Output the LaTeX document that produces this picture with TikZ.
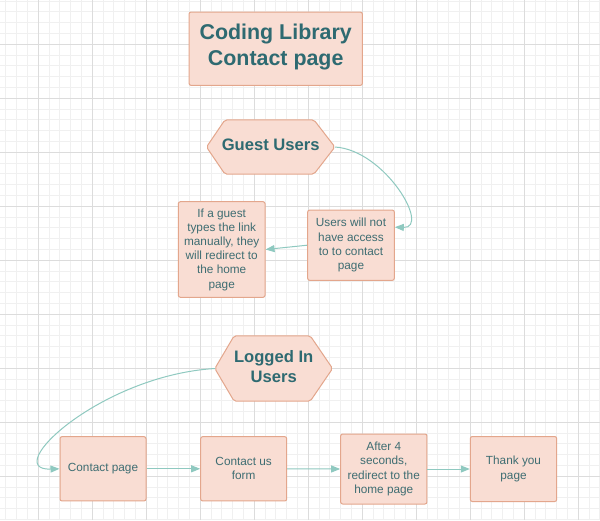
\documentclass[tikz,border=0pt]{standalone}
\usepackage{fontspec}
\setmainfont{Liberation Sans}
\usetikzlibrary{arrows.meta,calc}
\definecolor{boxfill}{HTML}{F9DDD3}
\definecolor{boxline}{HTML}{E3A68C}
\definecolor{txt}{HTML}{3E6D72}
\definecolor{ttl}{HTML}{2E6A71}
\definecolor{arr}{HTML}{8FC9C0}
\definecolor{gminor}{HTML}{F0F0F0}
\definecolor{gmajor}{HTML}{DCDCDC}
\pgfdeclarelayer{gridlayer}
\pgfdeclarelayer{bg}
\pgfsetlayers{gridlayer,bg,main}
\tikzset{
  pbox/.style={draw=boxline, fill=boxfill, line width=1pt, rounded corners=2pt, inner sep=0pt,
    align=center, text=txt, font=\fontsize{11.8}{14.2}\selectfont},
  tbox/.style={pbox, text=ttl, font=\fontsize{21.4}{26}\selectfont\bfseries, text depth=8.5pt},
  hexnode/.style={inner sep=0pt, align=center, text=ttl, font=\fontsize{16.6}{20}\selectfont\bfseries, text depth=4pt},
  hexshape/.style={draw=boxline, fill=boxfill, line width=1pt, rounded corners=2pt},
  conn/.style={draw=arr, line width=1pt, -{Triangle[length=9pt,width=7pt]}},
  gridminor/.style={draw=gminor, line width=0.9pt},
  gridmajor/.style={draw=gmajor, line width=0.9pt},
}
\begin{document}
\begin{tikzpicture}[x=1pt,y=-1pt]
\useasboundingbox (0,0) rectangle (600,520);
\begin{pgfonlayer}{gridlayer}
  \begin{scope}
    \clip (0,0) rectangle (600,520);
    \fill[white] (0,0) rectangle (600,520);
    \foreach \i in {-4,...,52} \draw[gridminor] ({38.3+10.8*\i},0) -- ({38.3+10.8*\i},520);
    \foreach \j in {-5,...,45} \draw[gridminor] (0,{44.3+10.8*\j}) -- (600,{44.3+10.8*\j});
    \foreach \i in {-1,...,11} \draw[gridmajor] ({38.3+54*\i},0) -- ({38.3+54*\i},520);
    \foreach \j in {-1,...,9} \draw[gridmajor] (0,{44.3+54*\j}) -- (600,{44.3+54*\j});
  \end{scope}
\end{pgfonlayer}

% title
\node[tbox, minimum width=173.3pt, minimum height=73.3pt] (title) at (275.7,48.7) {Coding Library\\Contact page};

% hexagons
\node[hexnode, minimum width=128pt, minimum height=54pt] (guest) at (270.7,147) {Guest Users};
\node[hexnode, minimum width=117.3pt, minimum height=65pt] (logged) at (273.7,368.5) {Logged In\\Users};
\begin{pgfonlayer}{bg}
  \draw[hexshape] (guest.west) -- ([xshift=18.5pt]guest.north west) -- ([xshift=-21pt]guest.north east)
    -- (guest.east) -- ([xshift=-21pt]guest.south east) -- ([xshift=18.5pt]guest.south west) -- cycle;
  \draw[hexshape] (logged.west) -- ([xshift=19.3pt]logged.north west) -- ([xshift=-22.3pt]logged.north east)
    -- (logged.east) -- ([xshift=-22.3pt]logged.south east) -- ([xshift=19.3pt]logged.south west) -- cycle;
\end{pgfonlayer}

% boxes
\node[pbox, minimum width=86.6pt, minimum height=70.3pt] (users) at (351,245.2)
  {Users will not\\have access\\to to contact\\page};
\node[pbox, minimum width=86.7pt, minimum height=95.6pt] (gbox) at (221.7,249.5)
  {If a guest\\types the link\\manually, they\\will redirect to\\the home\\page};
\node[pbox, minimum width=86pt, minimum height=64.3pt] (cp) at (103,468.8) {Contact page};
\node[pbox, minimum width=86pt, minimum height=64.3pt] (cf) at (243.7,468.8) {Contact us\\form};
\node[pbox, minimum width=86.3pt, minimum height=70pt] (af) at (383.8,469) {After 4\\seconds,\\redirect to the\\home page};
\node[pbox, minimum width=86.4pt, minimum height=65pt] (ty) at (513.5,469) {Thank you\\page};

% connectors
\draw[conn] (guest.east) .. controls +(50,3) and +(36,1) .. ([yshift=18pt]users.east);
\draw[conn] (users.west) -- (gbox.east);
\draw[conn] (logged.west) .. controls +(-115,7) and +(-60,2) .. (cp.west);
\draw[conn] (cp.east) -- (cf.west);
\draw[conn] (cf.east) -- (af.west);
\draw[conn] (af.east) -- (ty.west);
\end{tikzpicture}
\end{document}
